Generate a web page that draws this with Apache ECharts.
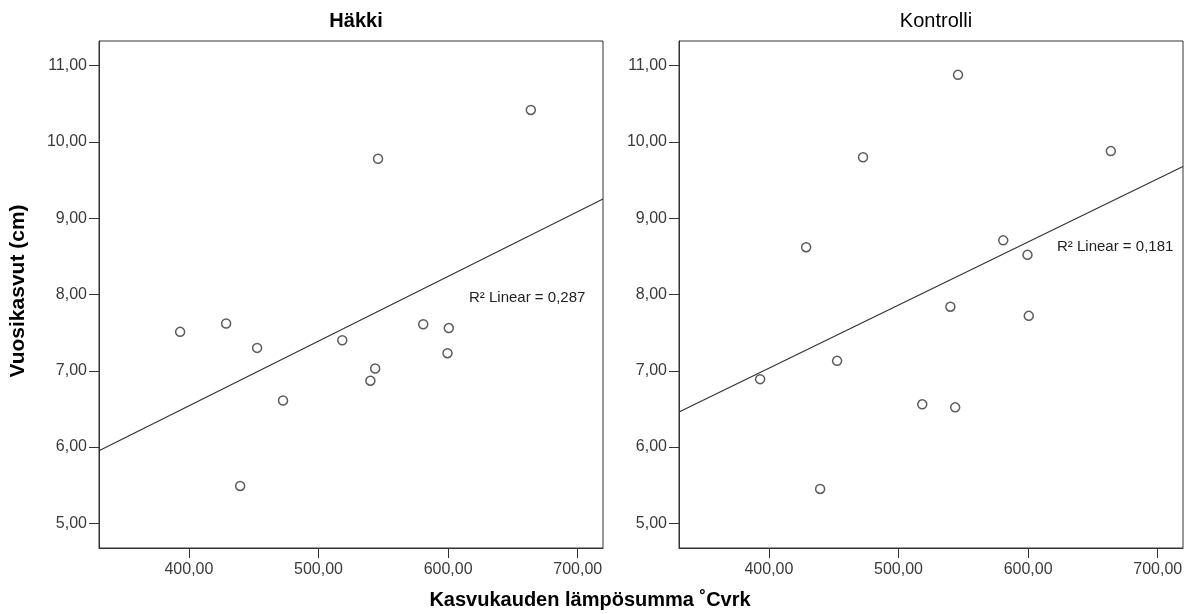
<!DOCTYPE html>
<html>
<head>
<meta charset="utf-8">
<script src="https://cdn.jsdelivr.net/npm/echarts@6/dist/echarts.min.js"></script>
<style>
html,body{margin:0;padding:0;background:#fff;}
#chart{width:1195px;height:614px;}
</style>
</head>
<body>
<div id="chart"></div>
<script>
// Temperature sums (x) shared by both panels
const panelTitles = ['Häkki', 'Kontrolli'];
const hakkiX = [393.2, 428.7, 439.5, 452.6, 472.6, 518.3, 543.7, 540.0, 545.9, 580.8, 600.5, 599.5, 663.8];
const hakkiY = [7.51, 7.62, 5.49, 7.30, 6.61, 7.40, 7.03, 6.87, 9.78, 7.61, 7.56, 7.23, 10.42];
const kontrolliX = [393.2, 428.7, 439.5, 452.6, 472.6, 518.3, 543.7, 540.0, 545.9, 580.8, 599.5, 600.5, 663.8];
const kontrolliY = [6.89, 8.62, 5.45, 7.13, 9.80, 6.56, 6.52, 7.84, 10.88, 8.71, 8.52, 7.72, 9.88];
const xTicks = [400, 500, 600, 700];
const yTicks = [5, 6, 7, 8, 9, 10, 11];
const r2Labels = ['R\u00B2 Linear = 0,287', 'R\u00B2 Linear = 0,181'];
const xRange = [330.6, 719.5];
const yRange = [4.676, 11.324];

function fit(xs, ys) {
  const n = xs.length;
  const mx = xs.reduce((a, b) => a + b, 0) / n;
  const my = ys.reduce((a, b) => a + b, 0) / n;
  let sxy = 0, sxx = 0;
  for (let i = 0; i < n; i++) { sxy += (xs[i] - mx) * (ys[i] - my); sxx += (xs[i] - mx) ** 2; }
  const b = sxy / sxx, a = my - b * mx;
  return [[xRange[0], a + b * xRange[0]], [xRange[1], a + b * xRange[1]]];
}
const pts = (xs, ys) => xs.map((x, i) => [x, ys[i]]);
const fmt = v => v.toFixed(2).replace('.', ',');
const FONT = 'Liberation Sans, Arial, sans-serif';
const ink = '#333';

const grids = [
  { left: 99, top: 41, width: 504, height: 507 },
  { left: 679, top: 41, width: 504, height: 507 }
].map(g => Object.assign(g, { show: true, borderColor: ink, borderWidth: 1, backgroundColor: 'transparent', containLabel: false }));

const xAxes = [0, 1].map(i => ({
  type: 'value', gridIndex: i, min: xRange[0], max: xRange[1],
  axisLine: { show: true, lineStyle: { color: ink, width: 1 } },
  axisTick: { show: true, length: 10, customValues: xTicks, lineStyle: { color: ink } },
  axisLabel: { customValues: xTicks, formatter: fmt, margin: 14, color: '#3a3a3a', fontSize: 16, fontFamily: FONT },
  splitLine: { show: false }
}));
const yAxes = [0, 1].map(i => ({
  type: 'value', gridIndex: i, min: yRange[0], max: yRange[1],
  axisLine: { show: true, lineStyle: { color: ink, width: 1 } },
  axisTick: { show: true, length: 10, customValues: yTicks, lineStyle: { color: ink } },
  axisLabel: { customValues: yTicks, formatter: fmt, margin: 12, color: '#3a3a3a', fontSize: 16, fontFamily: FONT },
  splitLine: { show: false }
}));

const scatterStyle = { color: '#fff', borderColor: '#333', borderWidth: 1.5 };
const series = [];
[[hakkiX, hakkiY], [kontrolliX, kontrolliY]].forEach(([xs, ys], i) => {
  series.push({
    type: 'line', xAxisIndex: i, yAxisIndex: i, data: fit(xs, ys), symbol: 'none',
    lineStyle: { color: '#333', width: 1.2 }, silent: true, z: 2
  });
  series.push({
    type: 'scatter', xAxisIndex: i, yAxisIndex: i, data: pts(xs, ys),
    symbol: 'circle', symbolSize: 9, itemStyle: scatterStyle, z: 3
  });
});

const chart = echarts.init(document.getElementById('chart'), null, { renderer: 'canvas' });
chart.setOption({
  animation: false,
  backgroundColor: '#fff',
  title: [
    { text: panelTitles[0], left: 351, top: 6, textAlign: 'center', textStyle: { fontSize: 20, fontWeight: 'bold', color: '#000', fontFamily: FONT } },
    { text: panelTitles[1], left: 931, top: 6, textAlign: 'center', textStyle: { fontSize: 20, fontWeight: 'normal', color: '#000', fontFamily: FONT } }
  ],
  grid: grids,
  xAxis: xAxes,
  yAxis: yAxes,
  series: series,
  graphic: [
    { type: 'text', x: 18, y: 291, rotation: Math.PI / 2,
      style: { text: 'Vuosikasvut (cm)', fontSize: 21, fontWeight: 'bold', fill: '#000', fontFamily: FONT, textAlign: 'center', textVerticalAlign: 'middle' } },
    { type: 'text', x: 590, y: 600,
      style: { text: 'Kasvukauden lämpösumma ˚Cvrk', fontSize: 20, fontWeight: 'bold', fill: '#000', fontFamily: FONT, textAlign: 'center', textVerticalAlign: 'middle' } },
    { type: 'text', x: 469, y: 298,
      style: { text: r2Labels[0], fontSize: 15, fill: '#222', fontFamily: FONT, textAlign: 'left', textVerticalAlign: 'middle' } },
    { type: 'text', x: 1057, y: 247,
      style: { text: r2Labels[1], fontSize: 15, fill: '#222', fontFamily: FONT, textAlign: 'left', textVerticalAlign: 'middle' } }
  ]
});
</script>
</body>
</html>
